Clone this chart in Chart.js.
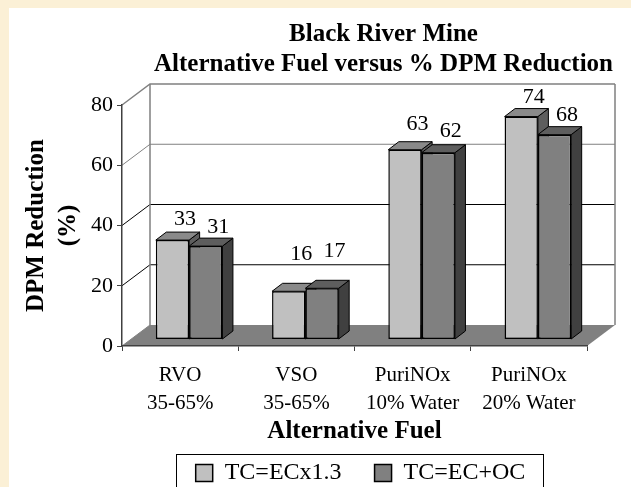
<!DOCTYPE html>
<html>
<head>
<meta charset="utf-8">
<title>Black River Mine</title>
<script src="https://cdn.jsdelivr.net/npm/chart.js@4/dist/chart.umd.min.js"></script>
<style>
  html, body { margin: 0; padding: 0; width: 631px; height: 487px; overflow: hidden; background: #fbf0d6; }
  #panel { position: absolute; left: 9px; top: 8px; width: 622px; height: 479px; background: #fff; }
  canvas { position: absolute; left: 0; top: 0; display: block; }
</style>
</head>
<body>
<div id="panel"></div>
<canvas id="grafico" width="631" height="487"></canvas>
<script>
const categorias = [['RVO', '35-65%'], ['VSO', '35-65%'], ['PuriNOx', '10% Water'], ['PuriNOx', '20% Water']];
const tcEcx13 = [33, 16, 63, 74];
const tcEcOc = [31, 17, 62, 68];
const titulo = ['Black River Mine', 'Alternative Fuel versus % DPM Reduction'];

const serif = '"Liberation Serif", "Times New Roman", serif';
const fundo = { dx: 28, dy: -21 };   // back wall offset from the front axes
const plano = { dx: 9, dy: -6.5 };   // plane the bars stand on
const barra = { dx: 10.5, dy: -8 };  // depth of one bar
const sobeRotulo = { 33: 21, 16: 37, 17: 37, 63: 25, 62: 22 };  // labels the original lifted by hand

function poly(ctx, pts, fill, stroke, lw) {
    ctx.beginPath();
    pts.forEach((p, i) => i ? ctx.lineTo(p[0], p[1]) : ctx.moveTo(p[0], p[1]));
    ctx.closePath();
    if (fill) { ctx.fillStyle = fill; ctx.fill(); }
    if (stroke) { ctx.strokeStyle = stroke; ctx.lineWidth = lw || 1; ctx.stroke(); }
}

const cena3d = {
    id: 'cena3d',
    afterLayout(chart) {
        // title is centred over the back wall, legend sits lower than the layout puts it
        chart.titleBlock.left += 90;
        chart.titleBlock.right += 90;
        chart.legend.left += 67;
        chart.legend.right += 67;
        chart.legend.top = 428;
    },
    beforeDraw(chart) {
        const ctx = chart.ctx, a = chart.chartArea, y = chart.scales.y;
        ctx.save();
        y.ticks.forEach(t => {
            const py = y.getPixelForValue(t.value);
            const cor = t.value === 20 || t.value === 40 ? '#000' : '#808080';
            ctx.strokeStyle = cor;
            ctx.lineWidth = t.value === 80 ? 1.5 : 1;
            ctx.beginPath();
            ctx.moveTo(a.left, py);
            ctx.lineTo(a.left + fundo.dx, py + fundo.dy);
            if (t.value > 0) ctx.lineTo(a.right + fundo.dx, py + fundo.dy);
            ctx.stroke();
        });
        ctx.strokeStyle = '#808080';
        ctx.lineWidth = 1.5;
        ctx.beginPath();
        ctx.moveTo(a.left + fundo.dx, a.top + fundo.dy);
        ctx.lineTo(a.left + fundo.dx, a.bottom + fundo.dy);
        ctx.moveTo(a.right + fundo.dx, a.top + fundo.dy);
        ctx.lineTo(a.right + fundo.dx, a.bottom + fundo.dy);
        ctx.stroke();
        poly(ctx, [[a.left, a.bottom], [a.right, a.bottom],
            [a.right + fundo.dx, a.bottom + fundo.dy], [a.left + fundo.dx, a.bottom + fundo.dy]], '#808080');
        ctx.restore();
    },
    beforeDatasetDraw() {
        return false;   // bars are painted together with their faces below
    },
    afterDatasetsDraw(chart) {
        const ctx = chart.ctx;
        const faces = [['#8a8a8a', '#5e5e5e'], ['#5e5e5e', '#404040']];
        ctx.save();
        ctx.translate(plano.dx, plano.dy);
        chart.data.datasets.forEach((ds, i) => {
            chart.getDatasetMeta(i).data.forEach(b => {
                const l = b.x - b.width / 2, r = b.x + b.width / 2;
                poly(ctx, [[r, b.y], [r + barra.dx, b.y + barra.dy], [r + barra.dx, b.base + barra.dy], [r, b.base]],
                    faces[i][1], '#000', 1);
                poly(ctx, [[l, b.y], [l + barra.dx, b.y + barra.dy], [r + barra.dx, b.y + barra.dy], [r, b.y]],
                    faces[i][0], '#000', 1);
                b.draw(ctx);
            });
        });
        ctx.restore();

        ctx.save();
        ctx.fillStyle = '#000';
        ctx.font = '22px ' + serif;
        ctx.textAlign = 'center';
        ctx.textBaseline = 'middle';
        chart.data.datasets.forEach((ds, i) => {
            chart.getDatasetMeta(i).data.forEach((b, j) => {
                const sobe = sobeRotulo[ds.data[j]] || 19;
                ctx.fillText(ds.data[j], b.x + plano.dx + 12.5, b.y + plano.dy - sobe);
            });
        });
        ctx.restore();
    },
    afterDraw(chart) {
        const ctx = chart.ctx;
        ctx.save();
        ctx.strokeStyle = '#000';
        ctx.lineWidth = 1;
        ctx.strokeRect(176.5, 454.5, 367, 50);  // runs off the bottom like the original
        ctx.restore();
    }
};

new Chart(document.getElementById('grafico').getContext('2d'), {
    type: 'bar',
    data: {
        labels: categorias,
        datasets: [
            { label: 'TC=ECx1.3', data: tcEcx13, backgroundColor: '#c0c0c0', borderColor: '#000', borderWidth: 1.5, borderSkipped: false },
            { label: 'TC=EC+OC', data: tcEcOc, backgroundColor: '#808080', borderColor: '#000', borderWidth: 1.5, borderSkipped: false }
        ]
    },
    options: {
        responsive: false,
        animation: false,
        layout: { padding: { left: 0, right: 44, top: 12, bottom: 2 } },
        datasets: { bar: { barPercentage: 1, categoryPercentage: 0.573 } },
        plugins: {
            tooltip: { enabled: false },
            title: {
                display: true,
                text: titulo,
                color: '#000',
                font: { family: serif, size: 25, weight: 'bold', lineHeight: 1.2 },
                padding: { top: 8, bottom: 25 }
            },
            legend: {
                position: 'bottom',
                maxHeight: 38,
                labels: {
                    color: '#000',
                    font: { family: serif, size: 24 },
                    boxWidth: 17,
                    boxHeight: 17,
                    padding: 33
                }
            }
        },
        scales: {
            x: {
                afterFit(s) { s.height = 101; },
                grid: { drawOnChartArea: false, color: '#404040', tickLength: 5 },
                border: { color: '#404040', width: 1.5 },
                ticks: {
                    color: '#000',
                    maxRotation: 0,
                    autoSkip: false,
                    padding: 10,
                    font: { family: serif, size: 21, lineHeight: 1.333 }
                },
                title: {
                    display: true,
                    text: 'Alternative Fuel',
                    color: '#000',
                    font: { family: serif, size: 25, weight: 'bold' },
                    padding: 0
                }
            },
            y: {
                min: 0,
                max: 80,
                afterFit(s) { s.width = 122; },
                grid: { drawOnChartArea: false, color: '#404040', tickLength: 5 },
                border: { color: '#404040', width: 1.5 },
                ticks: {
                    color: '#000',
                    stepSize: 20,
                    padding: 4,
                    font: { family: serif, size: 22 }
                },
                title: {
                    display: true,
                    text: ['DPM Reduction', '(%)'],
                    color: '#000',
                    font: { family: serif, size: 25, weight: 'bold', lineHeight: 1.3 },
                    padding: { top: 20, bottom: 0 }
                }
            }
        }
    },
    plugins: [cena3d]
});
</script>
</body>
</html>
